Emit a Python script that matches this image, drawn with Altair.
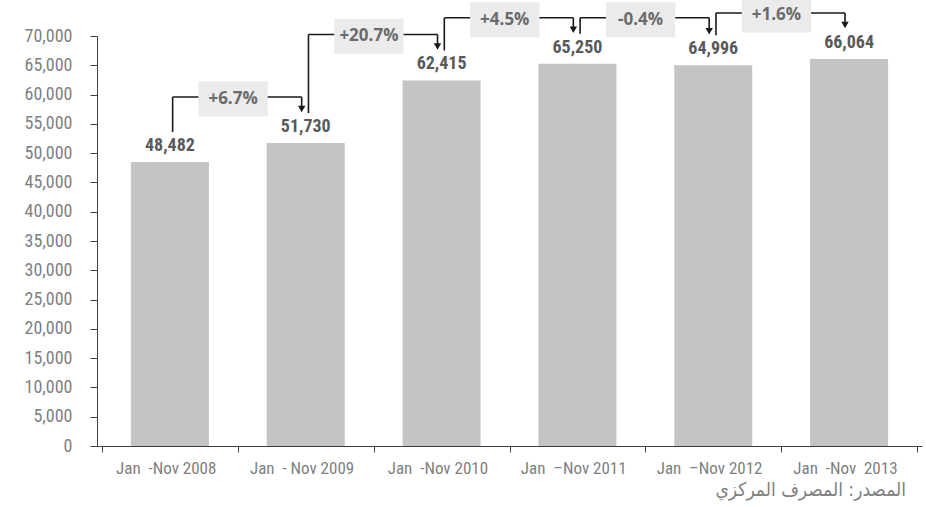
import json
import altair as alt
import pandas as pd

# ---- data ----
categories = ["Jan\u00a0 -Nov 2008", "Jan\u00a0 - Nov 2009", "Jan\u00a0 -Nov 2010",
              "Jan\u00a0 \u2013Nov 2011", "Jan\u00a0 \u2013Nov 2012", "Jan\u00a0 -Nov\u00a0 2013"]
values = [48482, 51730, 62415, 65250, 64996, 66064]
changes = ["+6.7%", "+20.7%", "+4.5%", "-0.4%", "+1.6%"]
y_ticks = list(range(0, 70001, 5000))
source_note = "المصدر: المصرف المركزي"

# ---- layout / style ----
W, H = 825, 410
YMAX = 70000
U = YMAX / H  # data units per pixel on the y scale
F_AX = "Roboto Condensed"
F_VAL = "Roboto Condensed"
F_BOX = "Open Sans"
BAR = "#c4c4c4"

bars_df = pd.DataFrame({"i": range(len(values)), "cat": categories, "value": values})

vert_up, horiz, vert_down, arrows, boxes = [], [], [], [], []
for i, ch in enumerate(changes):
    v0, v1 = values[i], values[i + 1]
    level = max(v0, v1) + 46 * U
    x0 = i + 0.02
    x1 = i + 1 - 0.03
    start_y = v0 + 30 * U
    tip_y = v1 + 30 * U
    vert_up.append({"x": x0, "y": start_y, "y2": level})
    horiz.append({"x": x0, "x2": x1, "y": level})
    vert_down.append({"x": x1, "y": level, "y2": tip_y + 5 * U})
    arrows.append({"x": x1, "y": tip_y + 4 * U})
    mid = (x0 + x1) / 2 - 0.03
    boxes.append({"x": mid - 0.255, "x2": mid + 0.255,
                  "y": level - 2 * U - 17.5 * U, "y2": level - 2 * U + 17.5 * U,
                  "xm": mid, "ym": level - 2 * U, "label": ch})

xscale = alt.Scale(domain=[-0.5, len(values) - 0.5], nice=False, zero=False)
yscale = alt.Scale(domain=[0, YMAX], nice=False)

label_expr = ("datum.value < 5 ? " + json.dumps(categories, ensure_ascii=False)
              + "[round(datum.value + 0.5)] : ''")

x_axis = alt.Axis(values=[k - 0.5 for k in range(len(values) + 1)],
                  labelExpr=label_expr, labelOffset=W / len(values) / 2 - 5,
                  title=None, grid=False, tickSize=6, tickColor="#404040",
                  domainColor="#404040", labelFont=F_AX, labelFontSize=17,
                  labelColor="#7f7f7f", labelPadding=8, labelOverlap=False,
                  labelBound=False, labelFlush=False)
y_axis = alt.Axis(values=y_ticks, format=",.0f", title=None, grid=False,
                  tickSize=7, tickColor="#404040", domainColor="#404040",
                  labelFont=F_AX, labelFontSize=18, labelColor="#7f7f7f",
                  labelPadding=18)

X = lambda f: alt.X(f, scale=xscale, axis=x_axis)
Y = lambda f: alt.Y(f, scale=yscale, axis=y_axis)

base = alt.Chart(bars_df)
bars = base.mark_bar(size=78, color=BAR).encode(x=X("i:Q"), y=Y("value:Q"))
val_labels = base.mark_text(dy=-16, fontWeight="bold", fontSize=18, font=F_VAL,
                            color="#595959", baseline="middle").encode(
    x=X("i:Q"), y=Y("value:Q"), text=alt.Text("value:Q", format=","))

LINE = "#1a1a1a"
r_up = alt.Chart(pd.DataFrame(vert_up)).mark_rule(color=LINE, strokeWidth=1.6).encode(
    x=X("x:Q"), y=Y("y:Q"), y2="y2:Q")
r_h = alt.Chart(pd.DataFrame(horiz)).mark_rule(color=LINE, strokeWidth=1.6).encode(
    x=X("x:Q"), x2="x2:Q", y=Y("y:Q"))
r_down = alt.Chart(pd.DataFrame(vert_down)).mark_rule(color=LINE, strokeWidth=1.6).encode(
    x=X("x:Q"), y=Y("y:Q"), y2="y2:Q")
arr = alt.Chart(pd.DataFrame(arrows)).mark_point(
    shape="triangle-down", filled=True, size=55, color=LINE, opacity=1).encode(
    x=X("x:Q"), y=Y("y:Q"))
boxes_df = pd.DataFrame(boxes)
box = alt.Chart(boxes_df).mark_rect(color="#ebebeb").encode(
    x=X("x:Q"), x2="x2:Q", y=Y("y:Q"), y2="y2:Q")
box_txt = alt.Chart(boxes_df).mark_text(fontWeight="bold", fontSize=17, font=F_BOX,
                                        color="#6b6b6b", baseline="middle").encode(
    x=X("xm:Q"), y=Y("ym:Q"), text="label:N")

chart = alt.layer(bars, val_labels, r_up, r_h, r_down, arr, box, box_txt).properties(
    width=W, height=H,
    background="white",
    autosize=alt.AutoSizeParams(type="none"),
    padding={"left": 97, "top": 36, "right": 4, "bottom": 61},
    title=alt.TitleParams(source_note, orient="bottom", anchor="end", align="center",
                          dx=-170, offset=5, font="DejaVu Sans Condensed",
                          fontSize=19, fontWeight="normal", color="#7f7f7f"),
).configure_view(stroke=None)

chart.save("out.html", embed_options={"renderer": "svg", "actions": False})
